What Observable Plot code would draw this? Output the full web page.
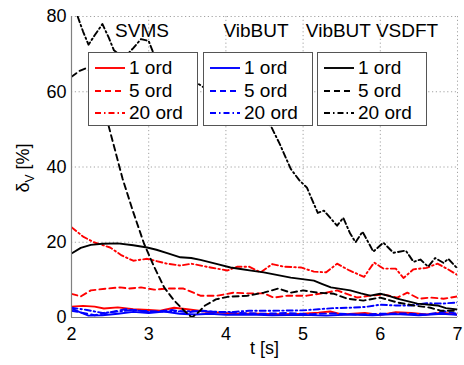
<!DOCTYPE html>
<html>
<head>
<meta charset="utf-8">
<script src="https://cdn.jsdelivr.net/npm/d3@7"></script>
<script src="https://cdn.jsdelivr.net/npm/@observablehq/plot@0.6"></script>
<style>
  html, body { margin: 0; padding: 0; background: #fff; }
  #wrap { position: relative; width: 464px; height: 365px; font-family: "Liberation Sans", Arial, Helvetica, sans-serif; color: #000; }
  .lg { position: absolute; top: 52px; width: 108px; height: 72px; background: #fff; border: 1px solid #555; }
  .row { position: absolute; left: 6px; height: 20px; display: flex; align-items: center; font-size: 19px; white-space: nowrap; }
  .row svg { margin-right: 4px; flex: none; }
  .ttl { position: absolute; top: 20px; font-size: 19px; line-height: 22px; transform: translateX(-50%); white-space: nowrap; }
  #ylab { position: absolute; left: 25px; top: 168px; transform: translate(-50%, -50%) rotate(-90deg); font-size: 18px; white-space: nowrap; }
</style>
</head>
<body>
<div id="wrap"></div>
<script>
// ---- data (time [s], delta_V [%]) ----
const xTicks = [2, 3, 4, 5, 6, 7];
const yTicks = [0, 20, 40, 60, 80];
const groupNames = ["SVMS", "VibBUT", "VibBUT VSDFT"];
const orderNames = ["1 ord", "5 ord", "20 ord"];

const svms1 = [[2,2.9],[2.15,3.1],[2.3,2.9],[2.42,2.4],[2.6,2.7],[2.8,2.2],[3.0,2.0],[3.15,1.8],[3.33,2.6],[3.5,2.2],[3.8,1.4],[4.1,1.1],[4.4,1.0],[4.7,0.9],[5.0,1.0],[5.2,1.3],[5.35,1.6],[5.5,0.8],[5.8,1.2],[6.0,0.7],[6.2,1.4],[6.4,1.2],[6.6,0.8],[6.8,1.3],[7,0.8]];
const svms5 = [[2,6.3],[2.12,5.6],[2.25,7.2],[2.46,7.7],[2.63,8.0],[2.75,7.7],[2.9,8.0],[3.07,7.4],[3.24,7.7],[3.45,7.7],[3.67,5.8],[3.89,5.8],[4.1,6.6],[4.3,6.4],[4.49,6.4],[4.62,5.3],[4.8,5.8],[5.05,5.8],[5.3,6.6],[5.44,7.2],[5.7,5.3],[5.87,5.8],[6.04,6.1],[6.22,5.3],[6.35,6.6],[6.5,5.0],[6.65,5.3],[6.82,5.0],[7,5.6]];
const svms20 = [[2,24],[2.15,21.5],[2.29,20],[2.5,18.6],[2.65,16.5],[2.8,15.1],[2.98,15.6],[3.24,14.3],[3.41,13.8],[3.55,14.3],[3.8,13.3],[4.02,12.5],[4.15,13.5],[4.3,13.5],[4.45,12.0],[4.6,14.2],[4.75,13.5],[4.97,13.3],[5.14,12.2],[5.3,12.0],[5.44,14.3],[5.6,12.5],[5.79,10.8],[5.92,14.6],[6.04,13.0],[6.2,13.0],[6.3,10.5],[6.43,12.8],[6.6,13.2],[6.74,14.3],[6.86,13.0],[7,11.3]];

const vib1 = [[2,2.4],[2.1,1.5],[2.22,0.5],[2.4,0.6],[2.6,1.0],[2.8,1.5],[3.0,1.2],[3.2,1.6],[3.4,1.0],[3.6,0.8],[3.8,1.0],[4.0,0.7],[4.3,0.8],[4.6,0.6],[5.0,0.7],[5.3,0.5],[5.6,0.8],[5.9,0.6],[6.2,0.9],[6.5,0.6],[6.8,1.0],[7,0.7]];
const vib5 = [[2,1.8],[2.15,1.2],[2.3,0.6],[2.5,1.4],[2.7,2.2],[2.9,1.8],[3.1,1.6],[3.3,2.0],[3.5,1.4],[3.7,1.8],[3.9,1.4],[4.2,1.2],[4.5,1.0],[4.8,1.2],[5.1,0.9],[5.4,1.1],[5.7,0.8],[6.0,1.0],[6.3,1.1],[6.6,0.8],[6.85,1.6],[7,1.0]];
const vib20 = [[2,2.6],[2.2,2.0],[2.4,1.2],[2.6,1.6],[2.8,2.0],[3.0,1.5],[3.3,1.6],[3.6,1.7],[3.9,1.5],[4.1,1.5],[4.3,1.8],[4.6,1.8],[5.0,1.9],[5.2,2.2],[5.4,2.5],[5.6,2.6],[5.8,2.8],[6.0,3.4],[6.2,3.2],[6.4,3.2],[6.6,3.8],[6.8,3.7],[7,4.0]];

const vsdft1 = [[2,17],[2.12,18.5],[2.25,19.3],[2.4,19.6],[2.6,19.7],[2.8,19.2],[2.98,18.6],[3.1,18.0],[3.24,17.1],[3.41,16.0],[3.55,15.8],[3.67,15.3],[3.89,14.2],[4.06,13.3],[4.19,12.9],[4.35,12.4],[4.49,12.0],[4.84,10.6],[5.14,9.8],[5.25,8.9],[5.36,8.0],[5.61,7.2],[5.75,6.4],[5.87,5.8],[6.0,6.3],[6.1,5.8],[6.22,5.0],[6.48,3.7],[6.74,3.2],[6.85,2.5],[7,2.1]];
const vsdft5 = [[2,64],[2.1,65.5],[2.18,66.2],[2.25,65.5],[2.35,62],[2.48,51],[2.66,37],[2.8,28],[2.94,19.6],[3.07,13.5],[3.2,8],[3.33,4.5],[3.46,1.8],[3.56,0],[3.65,1.5],[3.73,3.2],[3.87,4.8],[4.02,5.5],[4.28,5.8],[4.49,6.6],[4.68,7.7],[4.84,6.6],[5.0,7.2],[5.19,6.6],[5.4,6.3],[5.57,5.0],[5.78,4.5],[6.0,5.3],[6.22,4.0],[6.43,3.2],[6.65,2.6],[6.78,1.8],[7,1.8]];
const vsdft20 = [[2.08,80],[2.15,76],[2.22,72.5],[2.3,75],[2.4,78],[2.48,74.5],[2.55,71],[2.68,69],[2.8,71.6],[2.9,74],[3.0,73.5],[3.06,70.3],[3.2,68],[3.5,64],[3.8,60],[4.1,57],[4.4,54],[4.58,51],[4.7,46],[4.84,39.5],[4.95,36.5],[5.05,34.5],[5.19,27.8],[5.27,28.4],[5.44,24.4],[5.52,26.5],[5.61,22.3],[5.68,20],[5.77,22.8],[5.91,17.5],[6.04,19.9],[6.17,17.2],[6.33,17.8],[6.43,14.8],[6.52,15.4],[6.62,13.5],[6.71,15.8],[6.82,14.5],[6.88,15.6],[7,13]];

const groupColors = ["#ff0000", "#0000ff", "#000000"];
const dashes = [null, "6,4", "6,3,1.5,3"];
const seriesData = [[svms1, svms5, svms20], [vib1, vib5, vib20], [vsdft1, vsdft5, vsdft20]];

const lineMarks = [];
seriesData.forEach((grp, gi) => grp.forEach((data, oi) => {
  lineMarks.push(Plot.line(data, {
    x: d => d[0], y: d => d[1],
    stroke: groupColors[gi], strokeWidth: 1.9,
    strokeDasharray: dashes[oi] || undefined,
    clip: true
  }));
}));

const chart = Plot.plot({
  width: 464, height: 365,
  marginTop: 16, marginRight: 7, marginBottom: 48, marginLeft: 71,
  style: { fontFamily: "'Liberation Sans', Arial, sans-serif", fontSize: "17px", background: "#fff", color: "#000" },
  x: { domain: [2, 7] },
  y: { domain: [0, 80] },
  marks: [
    Plot.gridX(xTicks, { stroke: "#999", strokeOpacity: 0.9, strokeDasharray: "1.2,2.6", strokeWidth: 1 }),
    Plot.gridY(yTicks, { stroke: "#999", strokeOpacity: 0.9, strokeDasharray: "1.2,2.6", strokeWidth: 1 }),
    ...lineMarks,
    Plot.ruleX([2], { stroke: "#808080", strokeWidth: 1.2 }),
    Plot.ruleY([0], { stroke: "#808080", strokeWidth: 1.2 }),
    Plot.axisX(xTicks, { tickSize: 0, tickPadding: 10, label: null, fontSize: 18 }),
    Plot.axisY(yTicks, { tickSize: 0, tickPadding: 5, label: null, fontSize: 18 }),
    Plot.text(["t [s]"], { frameAnchor: "bottom", dy: 36, text: d => d, fontSize: 18 })
  ]
});

const wrap = document.getElementById("wrap");
wrap.appendChild(chart);

// y label with subscript
const yl = document.createElement("div");
yl.id = "ylab";
yl.innerHTML = "δ<sub style='font-size:12px'>V</sub> [%]";
wrap.appendChild(yl);

// group titles and legends
const titleX = [142, 256, 372];
const boxLeft = [88, 203, 317];
groupNames.forEach((name, gi) => {
  const t = document.createElement("div");
  t.className = "ttl";
  t.style.left = titleX[gi] + "px";
  t.textContent = name;
  wrap.appendChild(t);

  const box = document.createElement("div");
  box.className = "lg";
  box.style.left = boxLeft[gi] + "px";
  orderNames.forEach((on, oi) => {
    const row = document.createElement("div");
    row.className = "row";
    row.style.top = (5 + oi * 22.5) + "px";
    const dash = dashes[oi] ? ` stroke-dasharray="${dashes[oi]}"` : "";
    row.innerHTML = `<svg width="30" height="10"><line x1="0" y1="5" x2="30" y2="5" stroke="${groupColors[gi]}" stroke-width="1.9"${dash}/></svg><span>${on}</span>`;
    box.appendChild(row);
  });
  wrap.appendChild(box);
});
</script>
</body>
</html>
